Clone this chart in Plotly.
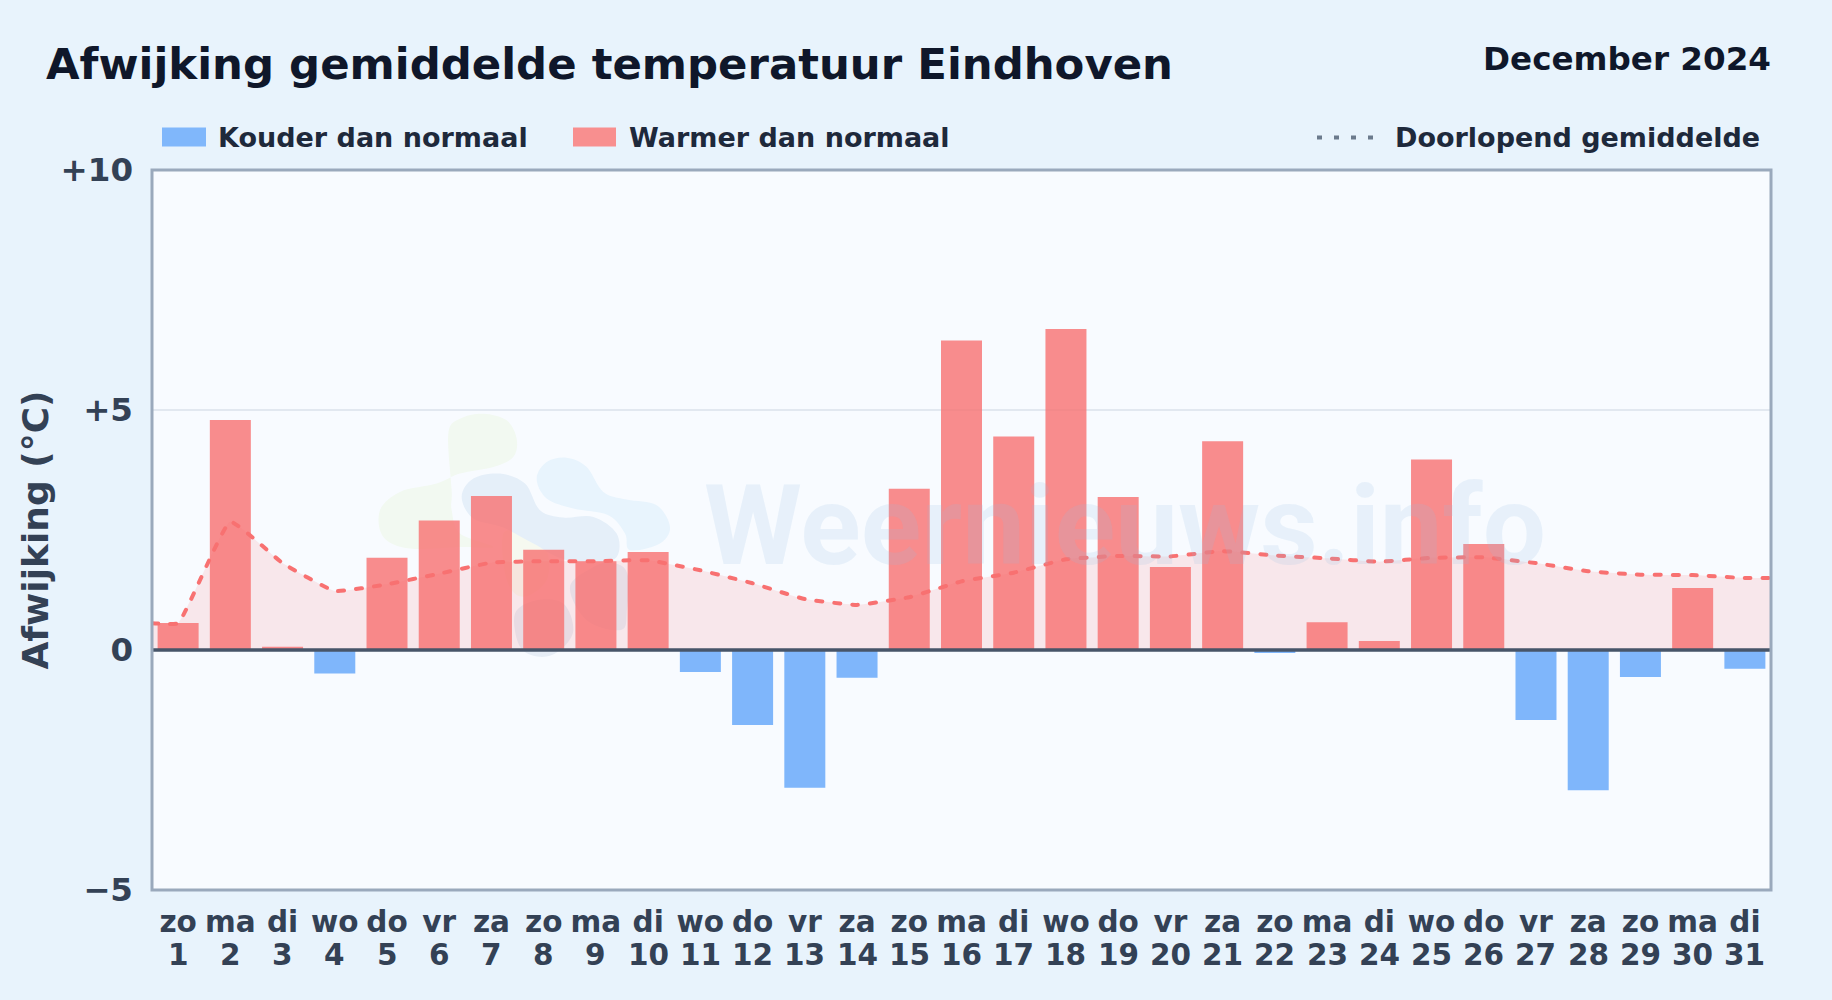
import plotly.graph_objects as go

TITLE = "Afwijking gemiddelde temperatuur Eindhoven"
PERIOD = "December 2024"
days = list(range(1, 32))
weekdays = ["zo","ma","di","wo","do","vr","za","zo","ma","di","wo","do","vr","za","zo","ma",
            "di","wo","do","vr","za","zo","ma","di","wo","do","vr","za","zo","ma","di"]
deviation = [0.56, 4.79, 0.07, -0.49, 1.92, 2.70, 3.21, 2.09, 1.85, 2.04, -0.46, -1.56, -2.87, -0.58,
             3.36, 6.45, 4.45, 6.69, 3.19, 1.73, 4.35, -0.06, 0.58, 0.19, 3.97, 2.21, -1.46, -2.92,
             -0.56, 1.29, -0.39]
running_mean = [0.56, 2.67, 1.81, 1.23, 1.37, 1.59, 1.82, 1.85, 1.85, 1.87, 1.66, 1.39, 1.06, 0.94,
                1.10, 1.43, 1.61, 1.89, 1.96, 1.95, 2.06, 1.97, 1.91, 1.84, 1.92, 1.93, 1.81, 1.64,
                1.57, 1.56, 1.50]
y_ticks = [-5, 0, 5, 10]
y_ticktext = ["\u22125", "0", "+5", "+10"]

W, H = 1832, 1000
L, R, T, B = 152, 1771, 169.5, 890
FONT = "DejaVu Sans"
def px(x): return (x - L) / (R - L)
def py(y): return (B - y) / (B - T)

def blob(points):
    """closed smooth path through real-pixel points, in paper coordinates"""
    n = len(points)
    d = "M%.5f,%.5f" % (px(points[0][0]), py(points[0][1]))
    for i in range(n):
        p0, p1, p2, p3 = points[i-1], points[i], points[(i+1) % n], points[(i+2) % n]
        c1 = (p1[0] + (p2[0]-p0[0])/6, p1[1] + (p2[1]-p0[1])/6)
        c2 = (p2[0] - (p3[0]-p1[0])/6, p2[1] - (p3[1]-p1[1])/6)
        d += " C%.5f,%.5f %.5f,%.5f %.5f,%.5f" % (px(c1[0]), py(c1[1]), px(c2[0]), py(c2[1]), px(p2[0]), py(p2[1]))
    return d + " Z"
def z5(pts): return [(360 + a/3, 400 + b/3) for a, b in pts]

logo = [
    ("#f2f9f1", [(265,100),(300,55),(370,40),(440,60),(470,115),(460,170),(400,200),(300,220),(230,250),
                 (120,275),(60,330),(70,410),(150,445),(300,440),(400,440),(300,400),(275,330),(275,270)]),
    ("#f6f9f0", [(430,400),(500,405),(560,450),(560,540),(490,590),(440,540)]),
    ("#e8f4fd", [(530,235),(560,185),(620,172),(680,200),(730,275),(800,298),(890,315),(930,380),
                 (900,430),(810,450),(795,400),(745,345),(640,325),(560,295)]),
    ("#e5eff9", [(305,290),(340,235),(420,220),(495,250),(540,330),(610,352),(700,350),(770,400),(770,470),
                 (700,500),(630,560),(680,660),(780,690),(800,640),(790,500),(620,480),(520,430),(430,382),(340,355)]),
    ("#e6edf6", [(465,640),(530,600),(610,610),(640,690),(600,750),(540,770),(480,740)]),
]

warm = [v if v >= 0 else None for v in deviation]
cold = [v if v < 0 else None for v in deviation]
fig = go.Figure()
fig.add_bar(x=days, y=cold, name="Kouder dan normaal", width=0.785, marker_color="rgba(96,165,250,0.8)", marker_line_width=0)
fig.add_bar(x=days, y=warm, name="Warmer dan normaal", width=0.785, marker_color="rgba(248,113,113,0.8)", marker_line_width=0)
fig.add_scatter(x=[0.5] + days + [31.5], y=[running_mean[0]] + running_mean + [running_mean[-1]],
                name="Doorlopend gemiddelde", mode="lines", fill="tozeroy", fillcolor="rgba(248,113,113,0.14)",
                line=dict(color="#f87171", width=4, dash="6px,12px", shape="spline", smoothing=0.35))

shapes = [dict(type="path", xref="paper", yref="paper", path=blob(z5(p)), fillcolor=c, line_width=0, layer="below") for c, p in logo]
shapes += [
    dict(type="line", xref="paper", yref="y", x0=0, x1=1, y0=0, y1=0, line=dict(color="#475569", width=3.5), layer="above"),
    dict(type="rect", xref="paper", yref="paper", x0=0, x1=1, y0=0, y1=1, line=dict(color="#9aa9bc", width=3), fillcolor="rgba(0,0,0,0)", layer="above"),
    dict(type="rect", xref="paper", yref="paper", x0=px(162), x1=px(206), y0=py(146), y1=py(127), fillcolor="#80b7fb", line_width=0),
    dict(type="rect", xref="paper", yref="paper", x0=px(573), x1=px(616), y0=py(146), y1=py(127), fillcolor="#f88f8f", line_width=0),
    dict(type="line", xref="paper", yref="paper", x0=px(1317), x1=px(1373), y0=py(137), y1=py(137),
         line=dict(color="#6b7a8c", width=4, dash="5px,12px")),
]
def note(text, x, y, size, color, anchor="left", **kw):
    return dict(text=text, xref="paper", yref="paper", x=px(x), y=py(y), xanchor=anchor, yanchor="middle",
                showarrow=False, font=dict(family=FONT, size=size, color=color, weight=700), **kw)
annotations = [
    dict(text="Weernieuws.info", xref="paper", yref="paper", x=px(1125), y=py(525), xanchor="center", yanchor="middle",
         showarrow=False, font=dict(family="Roboto", size=112, color="rgba(148,190,225,0.17)", weight=700)),
    note(TITLE, 44, 63, 43.4, "#0f172a"),
    note(PERIOD, 1773, 58.5, 32.6, "#0f172a", "right"),
    note("Kouder dan normaal", 216, 137, 27, "#1e293b"),
    note("Warmer dan normaal", 627, 137, 27, "#1e293b"),
    note("Doorlopend gemiddelde", 1393, 137, 27, "#1e293b"),
]
annotations += [dict(text=str(d), xref="x", yref="paper", x=d, y=py(955), xanchor="center", yanchor="middle", showarrow=False,
                     font=dict(family=FONT, size=29.5, color="#334155", weight=700)) for d in days]
fig.update_layout(
    width=W, height=H, margin=dict(l=L, r=W-R, t=T, b=H-B, autoexpand=False), barmode="overlay",
    paper_bgcolor="#e8f3fc", plot_bgcolor="#f8fbff", showlegend=False,
    shapes=shapes, annotations=annotations, font=dict(family=FONT),
    xaxis=dict(range=[0.5, 31.5], tickmode="array", tickvals=days, ticktext=weekdays, tickangle=0,
               tickfont=dict(size=29.5, color="#334155", weight=700), showgrid=False, zeroline=False, ticklabelstandoff=11,
               showline=False, ticks=""),
    yaxis=dict(range=[-5, 10], tickmode="array", tickvals=y_ticks, ticktext=y_ticktext, ticklabelstandoff=18,
               tickfont=dict(size=32.5, color="#334155", weight=700), gridcolor="#e2e8f0", gridwidth=1.5, zeroline=False,
               showline=False, ticks="",
               title=dict(text="Afwijking (\u00b0C)", font=dict(size=36, color="#334155", weight=700), standoff=0)),
)
fig.write_html("out.html", config=dict(displayModeBar=False),
               post_script="document.body.style.margin='0';document.body.style.overflow='hidden';"
                           "document.querySelectorAll('.scatterlayer .js-line').forEach(p=>p.style.strokeLinecap='round');")
